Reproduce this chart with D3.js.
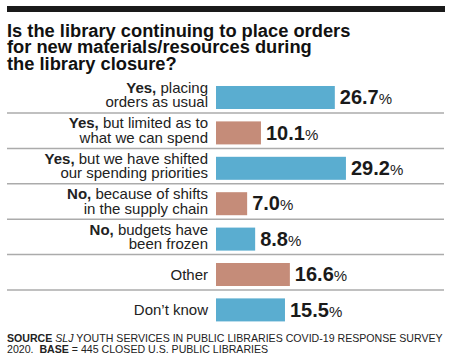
<!DOCTYPE html>
<html>
<head>
<meta charset="utf-8">
<script src="https://cdn.jsdelivr.net/npm/d3@7"></script>
<style>
  html, body { margin: 0; padding: 0; background: #fff; }
  svg { display: block; font-family: "Liberation Sans", Arial, Helvetica, sans-serif; }
</style>
</head>
<body>
<svg id="chart" width="450" height="360"></svg>
<script>
const titleLines = [
  "Is the library continuing to place orders",
  "for new materials/resources during",
  "the library closure?"
];
const categories = ["placing", "limited", "shifted", "supply", "frozen", "other", "dontknow"];
const labelBold = ["Yes,", "Yes,", "Yes,", "No,", "No,", "", ""];
const labelLine1 = ["placing", "but limited as to", "but we have shifted", "because of shifts", "budgets have", "Other", "Don’t know"];
const labelLine2 = ["orders as usual", "what we can spend", "our spending priorities", "in the supply chain", "been frozen", "", ""];
const values = [26.7, 10.1, 29.2, 7.0, 8.8, 16.6, 15.5];
const barColors = ["#5aadd0", "#c58c79", "#5aadd0", "#c58c79", "#5aadd0", "#c58c79", "#5aadd0"];

const svg = d3.select("#chart");

// top rule
svg.append("rect").attr("x", 7).attr("y", 6).attr("width", 438).attr("height", 6).attr("fill", "#1a1a1a");

// title (one text element, three lines)
svg.append("text")
  .attr("font-size", 18.3)
  .attr("font-weight", "bold")
  .attr("fill", "#111")
  .selectAll("tspan").data(titleLines).join("tspan")
  .attr("x", 7)
  .attr("y", (d, i) => 37 + i * 16.4)
  .text(d => d);

const x = d3.scaleLinear().domain([0, 30]).range([216, 216 + 30 * 4.45]);
const y = d3.scaleBand().domain(categories).range([79.8, 79.8 + 7 * 35.4])
  .paddingInner(0.35).paddingOuter(0.175);

const rows = categories.map((c, i) => ({
  c, bold: labelBold[i], l1: labelLine1[i], l2: labelLine2[i], v: values[i], color: barColors[i], i
}));

// separators
svg.append("g").selectAll("line").data(rows.slice(0, rows.length - 1)).join("line")
  .attr("x1", 7).attr("x2", 444)
  .attr("y1", d => y(d.c) + y.bandwidth() + 4)
  .attr("y2", d => y(d.c) + y.bandwidth() + 4)
  .attr("stroke", "#ababab").attr("stroke-width", 1.5);

// bars
svg.append("g").selectAll("rect").data(rows).join("rect")
  .attr("x", x(0))
  .attr("y", d => y(d.c))
  .attr("width", d => x(d.v) - x(0))
  .attr("height", y.bandwidth())
  .attr("fill", d => d.color);

// labels
svg.append("g").selectAll("text").data(rows).join("text")
  .attr("text-anchor", "end").attr("font-size", 15).attr("fill", "#222")
  .each(function(d) {
    const t = d3.select(this);
    const cy = y(d.c) + y.bandwidth() / 2;
    if (d.l2) {
      if (d.bold) t.append("tspan").attr("x", 208).attr("y", cy - 4.5)
        .attr("font-weight", "bold").text(d.bold + " ");
      const s = t.append("tspan").text(d.l1);
      if (!d.bold) s.attr("x", 208).attr("y", cy - 4.5);
      t.append("tspan").attr("x", 208).attr("y", cy + 9.8).text(d.l2);
    } else {
      t.append("tspan").attr("x", 208).attr("y", cy + 5.2).text(d.l1);
    }
  });

// value labels
const vt = svg.append("g").selectAll("text").data(rows).join("text")
  .attr("x", d => x(d.v) + 5)
  .attr("y", d => y(d.c) + y.bandwidth() / 2 + 6.6)
  .attr("fill", "#1a1a1a");
vt.append("tspan").attr("font-size", 20).attr("font-weight", "bold").text(d => d.v.toFixed(1));
vt.append("tspan").attr("font-size", 15).text("%");

// footer (one text element, two lines)
const f = svg.append("text").attr("font-size", 10.6).attr("fill", "#222")
  .attr("xml:space", "preserve").style("white-space", "pre");
f.append("tspan").attr("x", 7).attr("y", 342.3).attr("font-weight", "bold").text("SOURCE ");
f.append("tspan").attr("font-style", "italic").text("SLJ");
f.append("tspan").text(" YOUTH SERVICES IN PUBLIC LIBRARIES COVID-19 RESPONSE SURVEY");
f.append("tspan").attr("x", 7).attr("y", 352.5).text("2020.  ");
f.append("tspan").attr("font-weight", "bold").text("BASE");
f.append("tspan").text(" = 445 CLOSED U.S. PUBLIC LIBRARIES");
</script>
</body>
</html>
